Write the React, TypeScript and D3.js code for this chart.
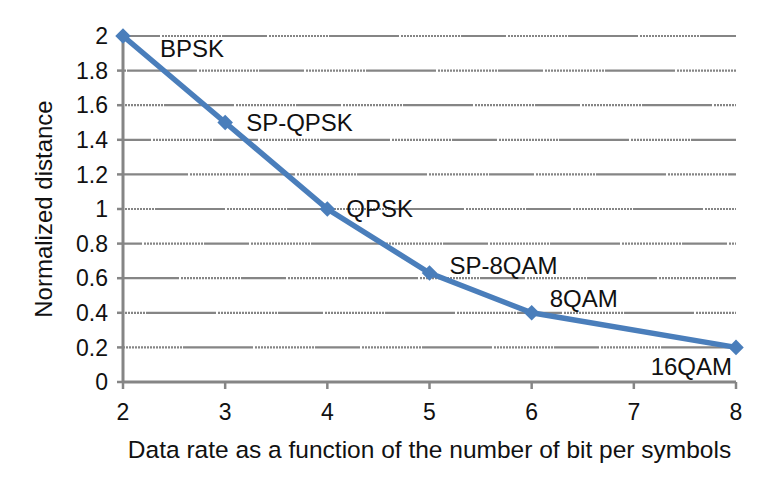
import React from "react";
import * as d3 from "d3";

const xValues = [2, 3, 4, 5, 6, 8];
const yValues = [2, 1.5, 1, 0.63, 0.4, 0.2];
const pointLabels = ["BPSK", "SP-QPSK", "QPSK", "SP-8QAM", "8QAM", "16QAM"];
const xTicks = [2, 3, 4, 5, 6, 7, 8];
const yTicks = [0, 0.2, 0.4, 0.6, 0.8, 1, 1.2, 1.4, 1.6, 1.8, 2];
const xTitle = "Data rate as a function of the number of bit per symbols";
const yTitle = "Normalized distance";

const W = 779, H = 482;
const m = { left: 123, right: 43, top: 36, bottom: 100 };
const font = "'Liberation Sans', Arial, Helvetica, sans-serif";
const blue = "#4a7ebb";
const gray = "#858585";

// label offsets [dx, baseline dy, anchor]
const labelPos: [number, number, string][] = [
  [37, 21, "start"],
  [21, 8, "start"],
  [19, 8, "start"],
  [20, 1, "start"],
  [18, -6, "start"],
  [-4, 28, "end"],
];

const dots = Array(20).fill("2 1").join(" ");
const gridDash = `${dots} 70 2 ${dots} 45 2`;

export default function App() {
  const x = d3.scaleLinear().domain([2, 8]).range([m.left, W - m.right]);
  const y = d3.scaleLinear().domain([0, 2]).range([H - m.bottom, m.top]);
  const pts = xValues.map((v, i) => [x(v), y(yValues[i])] as [number, number]);
  const line = d3.line()(pts) || "";
  const x0 = x(2), x1 = x(8), y0 = y(0);
  return (
    <svg width={W} height={H} style={{ position: "absolute", left: 0, top: 0, background: "#fff" }}>
      {yTicks.filter((t) => t > 0).map((t, i) => (
        <line key={"g" + t} x1={x0} x2={x1} y1={y(t)} y2={y(t)} stroke={gray} strokeWidth={2.2} strokeDasharray={gridDash} strokeDashoffset={(i * 37) % 120} />
      ))}
      {yTicks.map((t) => (
        <g key={"y" + t}>
          <line x1={x0 - 6} x2={x0} y1={y(t)} y2={y(t)} stroke={gray} strokeWidth={2.5} />
          <text x={x0 - 15} y={y(t)} dy="0.36em" textAnchor="end" fontFamily={font} fontSize={23} fill="#111">
            {String(t)}
          </text>
        </g>
      ))}
      {xTicks.map((t) => (
        <g key={"x" + t}>
          <line x1={x(t)} x2={x(t)} y1={y0} y2={y0 + 7} stroke={gray} strokeWidth={2.5} />
          <text x={x(t)} y={y0 + 38} textAnchor="middle" fontFamily={font} fontSize={23} fill="#111">
            {String(t)}
          </text>
        </g>
      ))}
      <line x1={x0} x2={x0} y1={y(2)} y2={y0 + 1} stroke={gray} strokeWidth={3} />
      <line x1={x0 - 1} x2={x1} y1={y0} y2={y0} stroke={gray} strokeWidth={3} />
      <path d={line} fill="none" stroke={blue} strokeWidth={5.5} strokeLinejoin="round" />
      {pts.map(([px, py], i) => (
        <rect key={"m" + i} x={px - 5.5} y={py - 5.5} width={11} height={11} fill={blue} transform={`rotate(45 ${px} ${py})`} />
      ))}
      {pts.map(([px, py], i) => (
        <text key={"l" + i} x={px + labelPos[i][0]} y={py + labelPos[i][1]} textAnchor={labelPos[i][2] as any} fontFamily={font} fontSize={24} fill="#111">
          {pointLabels[i]}
        </text>
      ))}
      <text x={(x0 + x1) / 2} y={458} textAnchor="middle" fontFamily={font} fontSize={24.5} fill="#111">
        {xTitle}
      </text>
      <text transform={`translate(52, ${(y(2) + y0) / 2}) rotate(-90)`} textAnchor="middle" fontFamily={font} fontSize={24} fill="#111">
        {yTitle}
      </text>
    </svg>
  );
}
